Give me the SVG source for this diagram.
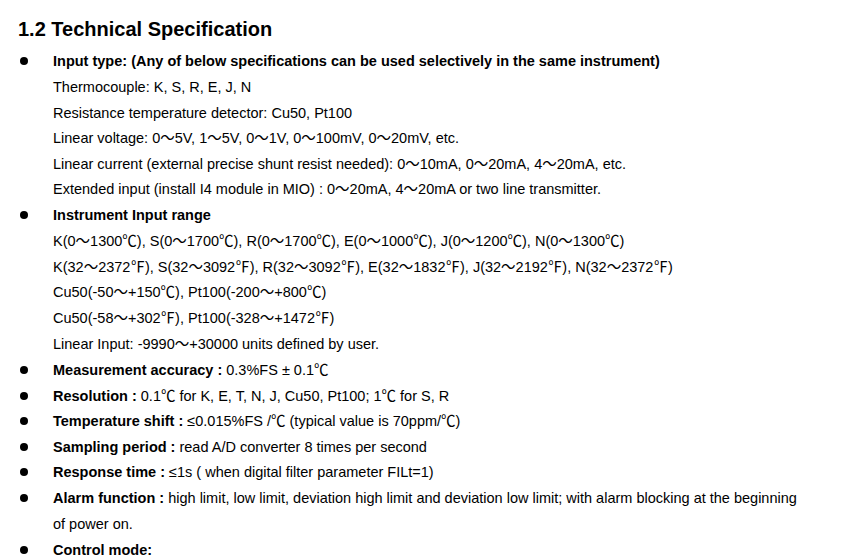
<svg xmlns="http://www.w3.org/2000/svg" width="847" height="560" viewBox="0 0 847 560">
<style>
text{font-family:"Liberation Sans","Noto Sans CJK SC",sans-serif;font-size:14.5px;fill:#000}
.h{font-size:20px;font-weight:bold}
.b{font-weight:bold}
</style>
<rect width="847" height="560" fill="#fff"/>
<text class="h" x="18" y="36">1.2  Technical Specification</text>
<g fill="#000">
<circle cx="24" cy="61" r="4"/><circle cx="24" cy="215" r="4"/><circle cx="24" cy="370" r="4"/><circle cx="24" cy="396" r="4"/><circle cx="24" cy="421" r="4"/><circle cx="24" cy="447" r="4"/><circle cx="24" cy="472" r="4"/><circle cx="24" cy="498" r="4"/><circle cx="24" cy="550" r="4"/>
</g>
<text x="53" y="66" class="b">Input type: (Any of below specifications can be used selectively in the same instrument)</text>
<text x="53" y="92">Thermocouple: K, S, R, E, J, N</text>
<text x="53" y="118">Resistance temperature detector: Cu50, Pt100</text>
<text x="53" y="143">Linear voltage: 0～5V, 1～5V, 0～1V, 0～100mV, 0～20mV, etc.</text>
<text x="53" y="169">Linear current (external precise shunt resist needed): 0～10mA, 0～20mA, 4～20mA, etc.</text>
<text x="53" y="194">Extended input (install I4 module in MIO) : 0～20mA, 4～20mA or two line transmitter.</text>
<text x="53" y="220" class="b">Instrument Input range</text>
<text x="53" y="246">K(0～1300℃), S(0～1700℃), R(0～1700℃), E(0～1000℃), J(0～1200℃), N(0～1300℃)</text>
<text x="53" y="272">K(32～2372℉), S(32～3092℉), R(32～3092℉), E(32～1832℉), J(32～2192℉), N(32～2372℉)</text>
<text x="53" y="297">Cu50(-50～+150℃), Pt100(-200～+800℃)</text>
<text x="53" y="323">Cu50(-58～+302℉), Pt100(-328～+1472℉)</text>
<text x="53" y="349">Linear Input: -9990～+30000 units defined by user.</text>
<text x="53" y="375"><tspan class="b">Measurement accuracy :</tspan> 0.3%FS ± 0.1℃</text>
<text x="53" y="401"><tspan class="b">Resolution :</tspan> 0.1℃  for K, E, T, N, J, Cu50, Pt100; 1℃  for S, R</text>
<text x="53" y="426"><tspan class="b">Temperature shift :</tspan>  ≤0.015%FS /℃   (typical value is 70ppm/℃)</text>
<text x="53" y="452"><tspan class="b">Sampling period :</tspan> read A/D converter 8 times per second</text>
<text x="53" y="477"><tspan class="b">Response time :</tspan>  ≤1s ( when digital filter parameter FILt=1)</text>
<text x="53" y="503"><tspan class="b">Alarm function :</tspan> high limit, low limit, deviation high limit and deviation low limit; with alarm blocking at the beginning</text>
<text x="53" y="529">of power on.</text>
<text x="53" y="555" class="b">Control mode:</text>
</svg>
